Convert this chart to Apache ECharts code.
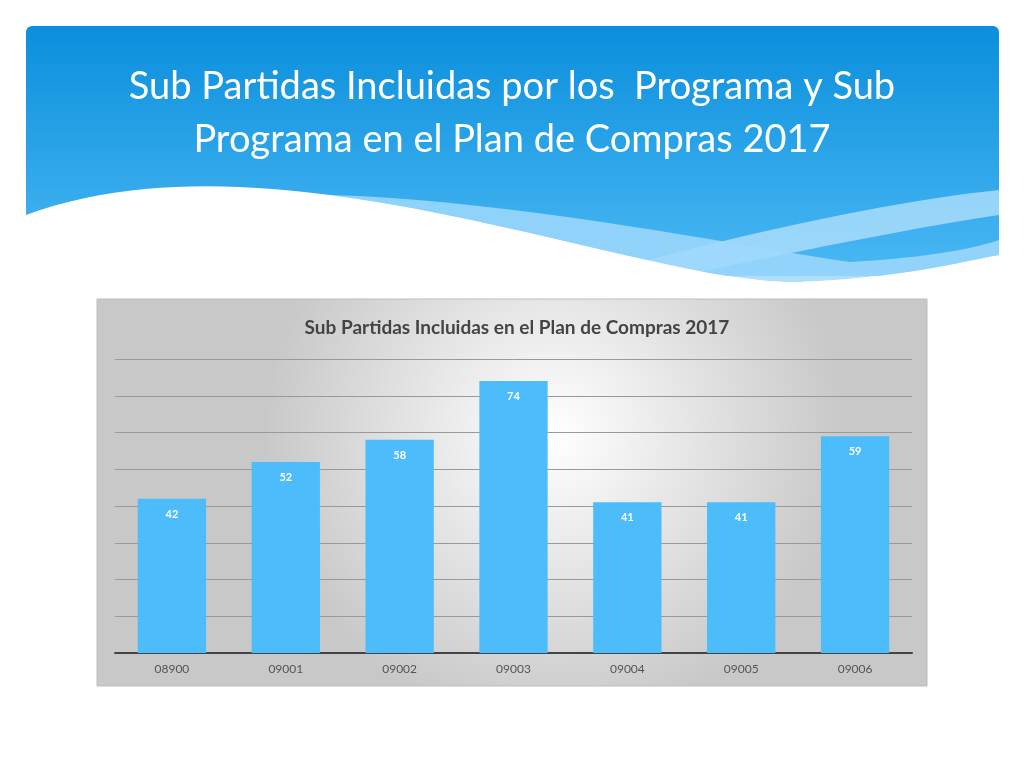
<!DOCTYPE html>
<html style="height: 100%;">
<head>
<meta charset="utf-8">
<script src="https://cdn.jsdelivr.net/npm/echarts@6/dist/echarts.min.js"></script>
</head>
<body style="height: 100%; margin: 0; background: #fff">
<div id="container" style="width:1024px;height:768px"></div>
<script>
var categories = ['08900', '09001', '09002', '09003', '09004', '09005', '09006'];
var values = [42, 52, 58, 74, 41, 41, 59];
var yMax = 80, yStep = 10;

var chart = echarts.init(document.getElementById('container'));
var font = 'Lato, "Open Sans", sans-serif';

// sample a chain of cubic beziers into polygon points (decoration only)
function curve(start, segs) {
  var pts = [start], p0 = start;
  segs.forEach(function (s) {
    for (var i = 1; i <= 20; i++) {
      var t = i / 20, u = 1 - t;
      pts.push([
        u*u*u*p0[0] + 3*u*u*t*s[0][0] + 3*u*t*t*s[1][0] + t*t*t*s[2][0],
        u*u*u*p0[1] + 3*u*u*t*s[0][1] + 3*u*t*t*s[1][1] + t*t*t*s[2][1]
      ]);
    }
    p0 = s[2];
  });
  return pts;
}
var edge = curve([26, 215], [[[120, 180], [230, 182], [330, 195]],
  [[520, 220], [700, 285], [800, 282]], [[900, 278], [960, 262], [999, 255]]]);
var whitePoly = edge.concat([[999, 300], [26, 300]]);
var stripeTop = curve([330, 195], [[[520, 200], [760, 250], [850, 262]], [[920, 258], [970, 250], [999, 240]]]);
var stripe1 = stripeTop.concat(edge.slice(20).reverse());
var stripe2 = curve([640, 262], [[[760, 230], [900, 200], [999, 190]]])
  .concat(curve([999, 215], [[[900, 230], [780, 255], [700, 272]]]));

chart.setOption({
  animation: false,
  graphic: [
    { type: 'rect', z: -20, shape: { x: 26, y: 26, width: 973, height: 250, r: 6 },
      style: { fill: new echarts.graphic.LinearGradient(0, 0, 0, 1, [
        { offset: 0, color: '#0b8fdc' }, { offset: 1, color: '#4ab8f4' }]) } },
    { type: 'polygon', z: -19, shape: { points: stripe2 }, style: { fill: '#bfe6fd', opacity: 0.7 } },
    { type: 'polygon', z: -18, shape: { points: stripe1 }, style: { fill: '#9fd8fb', opacity: 0.85 } },
    { type: 'polygon', z: -17, shape: { points: whitePoly }, style: { fill: '#ffffff' } },
    { type: 'text', left: 'center', top: 60,
      style: { text: 'Sub Partidas Incluidas por los  Programa y Sub\nPrograma en el Plan de Compras 2017',
        fill: '#fff', font: '38px ' + font, textAlign: 'center', lineHeight: 53 } },
    { type: 'rect', z: -10, shape: { x: 97, y: 299, width: 830, height: 387 },
      style: { stroke: '#bdbdbd', lineWidth: 1,
        fill: new echarts.graphic.RadialGradient(0.55, 0.35, 0.75, [
          { offset: 0, color: '#ffffff' }, { offset: 1, color: '#c8c8c8' }]) } }
  ],
  title: {
    text: 'Sub Partidas Incluidas en el Plan de Compras 2017',
    left: 512, top: 313, textAlign: 'center',
    textStyle: { fontFamily: font, fontSize: 19, fontWeight: 'bold', color: '#444' }
  },
  grid: { left: 115, right: 112, top: 359, bottom: 115 },
  xAxis: {
    type: 'category', data: categories,
    axisLine: { lineStyle: { color: '#444', width: 2 } },
    axisTick: { show: false },
    axisLabel: { color: '#555', fontFamily: font, fontSize: 12, margin: 10 }
  },
  yAxis: {
    type: 'value', min: 0, max: yMax, interval: yStep,
    axisLabel: { show: false },
    splitLine: { lineStyle: { color: '#999', width: 1 } }
  },
  series: [{
    type: 'bar', data: values, barWidth: '60%',
    itemStyle: { color: '#4dbcfa' },
    label: { show: true, position: 'insideTop', distance: 10, color: '#fff',
      fontFamily: font, fontSize: 11, fontWeight: 'bold' }
  }]
});
</script>
</body>
</html>
